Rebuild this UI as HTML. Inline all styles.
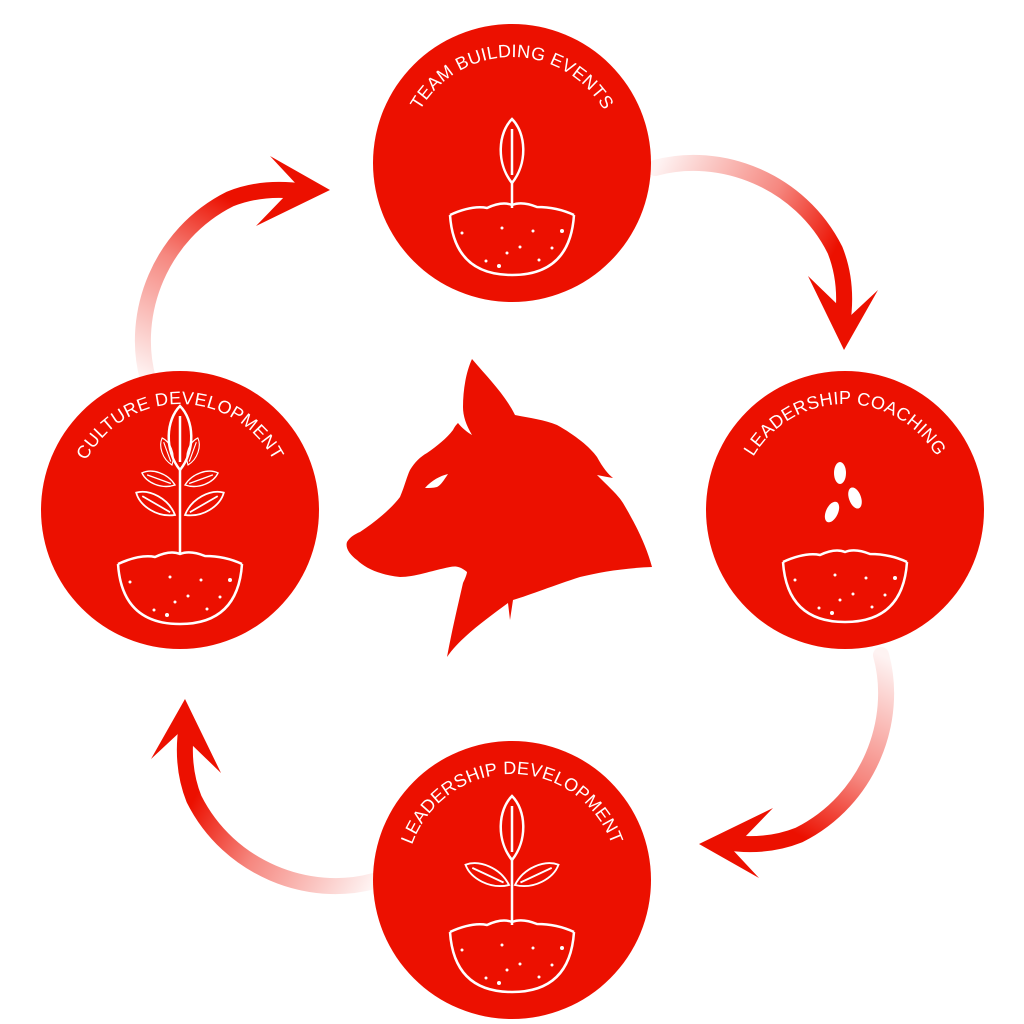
<!DOCTYPE html>
<html><head><meta charset="utf-8"><style>html,body{margin:0;padding:0;background:#fff}svg{display:block}</style></head>
<body>
<svg width="1024" height="1024" viewBox="0 0 1024 1024" xmlns="http://www.w3.org/2000/svg">
<defs>
<linearGradient id="ag" gradientUnits="userSpaceOnUse" x1="655" y1="168" x2="830" y2="260">
<stop offset="0" stop-color="#EC1000" stop-opacity="0.05"/>
<stop offset="0.6" stop-color="#EC1000" stop-opacity="0.5"/>
<stop offset="1" stop-color="#EC1000" stop-opacity="1"/>
</linearGradient>
<g id="arrow">
<path d="M655,168 C720,150 800,180 835,250 C845,275 846,300 842,325" fill="none" stroke="url(#ag)" stroke-width="16" stroke-linecap="round"/>
<path d="M808,276 L844,350 L878,290 L848,318 L838,305 Z" fill="#EC1000"/>
</g>
<path id="tp" d="M-106,0 A106,106 0 0 1 106,0"/>
<g id="pot" fill="none" stroke="#fff" stroke-width="2.5">
<path d="M-62,52 Q-40,42 -25,45 Q-10,38 0,42 Q10,38 25,44 Q45,44 62,52"/>
<path d="M-62,52 Q-58,112 0,112 Q58,112 62,52"/>
<g fill="#fff" stroke="none">
<circle cx="-50" cy="70" r="1.5"/><circle cx="-10" cy="65" r="1.5"/><circle cx="21" cy="68" r="1.5"/><circle cx="50" cy="68" r="2"/><circle cx="-5" cy="90" r="1.5"/><circle cx="-26" cy="98" r="1.5"/><circle cx="27" cy="97" r="1.5"/><circle cx="-13" cy="103" r="2"/><circle cx="8" cy="84" r="1.5"/><circle cx="40" cy="85" r="1.5"/>
</g>
</g>
<path id="leaf" d="M0,0 C-16,-20 -14,-50 0,-64 C14,-50 16,-20 0,0 Z M0,-8 L0,-54" fill="none" stroke="#fff" stroke-width="2.5"/>
</defs>

<use href="#arrow"/>
<use href="#arrow" transform="rotate(90 512 512) translate(0,-25)"/>
<use href="#arrow" transform="rotate(180 512 512) translate(-5,-25)"/>
<use href="#arrow" transform="rotate(-90 512 512) translate(-10,-20)"/>

<g font-family="Liberation Sans, sans-serif" font-size="18" fill="#fff" letter-spacing="0.3">
<g transform="translate(512,163)">
<circle r="139" fill="#EC1000"/>
<text><textPath href="#tp" startOffset="50%" text-anchor="middle">TEAM BUILDING EVENTS</textPath></text>
<use href="#pot"/>
<use href="#leaf" transform="translate(0,20)"/>
<path d="M0,20 L0,45" stroke="#fff" stroke-width="2.5"/>
</g>
<g transform="translate(845,510)">
<circle r="139" fill="#EC1000"/>
<text><textPath href="#tp" startOffset="50%" text-anchor="middle">LEADERSHIP COACHING</textPath></text>
<use href="#pot"/>
<ellipse cx="-5" cy="-37" rx="6" ry="11" fill="#fff"/>
<ellipse cx="10" cy="-12" rx="6" ry="11" fill="#fff" transform="rotate(-20 10 -12)"/>
<ellipse cx="-13" cy="2" rx="6" ry="11" fill="#fff" transform="rotate(25 -13 2)"/>
</g>
<g transform="translate(180,510)">
<circle r="139" fill="#EC1000"/>
<text><textPath href="#tp" startOffset="50%" text-anchor="middle">CULTURE DEVELOPMENT</textPath></text>
<use href="#pot" transform="translate(0,2)"/>
<use href="#leaf" transform="translate(0,-40)"/>
<path d="M0,-40 L0,45" stroke="#fff" stroke-width="2.5"/>
<use href="#leaf" transform="translate(-5,5) rotate(-60) scale(0.7)"/>
<use href="#leaf" transform="translate(5,5) rotate(60) scale(0.7)"/>
<use href="#leaf" transform="translate(-5,-25) rotate(-70) scale(0.55)"/>
<use href="#leaf" transform="translate(5,-25) rotate(70) scale(0.55)"/>
<use href="#leaf" transform="translate(-8,-45) rotate(-20) scale(0.45)"/>
<use href="#leaf" transform="translate(8,-45) rotate(20) scale(0.45)"/>
</g>
<g transform="translate(512,880)">
<circle r="139" fill="#EC1000"/>
<text><textPath href="#tp" startOffset="50%" text-anchor="middle">LEADERSHIP DEVELOPMENT</textPath></text>
<use href="#pot"/>
<use href="#leaf" transform="translate(0,-20)"/>
<path d="M0,-20 L0,45" stroke="#fff" stroke-width="2.5"/>
<use href="#leaf" transform="translate(-3,5) rotate(-65) scale(0.75)"/>
<use href="#leaf" transform="translate(3,5) rotate(65) scale(0.75)"/>
</g>
</g>

<path d="M472,359 C490,380 505,395 515,415 C530,418 545,420 557,425 C575,435 590,447 597,457 C603,468 608,474 613,478 C607,477 602,476 597,475 C610,488 618,495 623,503 C636,525 646,545 652,567 C625,568 600,572 580,577 C555,585 530,595 513,600 L510,620 L508,603 C485,620 460,638 447,657 C452,630 458,605 463,583 C467,575 467,572 467,572 C460,566 455,566 450,567 C430,571 415,577 400,577 C380,575 365,568 357,560 C350,555 345,548 347,542 C350,537 355,534 360,532 C375,522 390,510 400,497 C405,485 407,476 410,470 C415,462 420,457 427,453 C437,446 447,438 453,430 C455,426 457,424 458,423 C462,428 467,432 472,435 C466,425 463,416 463,407 C463,390 466,372 472,359 Z" fill="#EC1000"/>
<path d="M425,488 C432,480 440,476 448,474 C444,480 441,485 437,487 C433,488 429,488 425,488 Z" fill="#fff"/>
</svg>
</body></html>
